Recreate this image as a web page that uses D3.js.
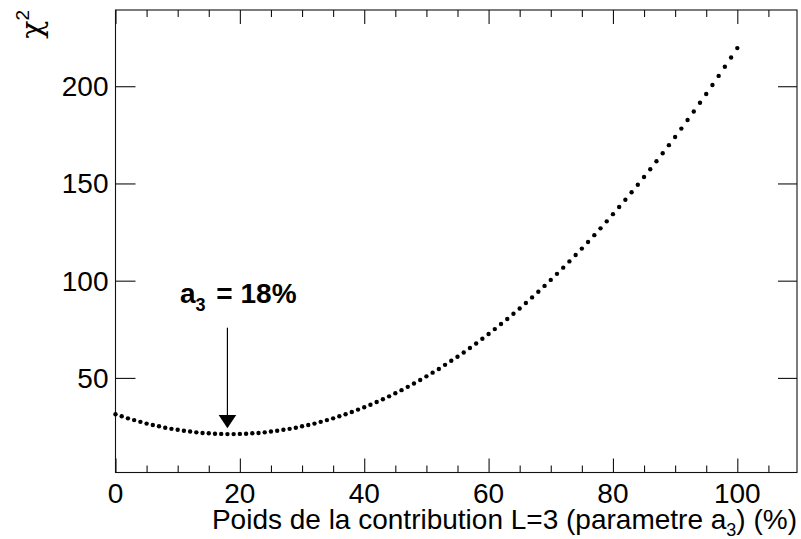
<!DOCTYPE html>
<html>
<head>
<meta charset="utf-8">
<script src="https://cdn.jsdelivr.net/npm/d3@7"></script>
<style>
  html, body { margin: 0; padding: 0; background: #fff; }
  svg { display: block; font-family: "Liberation Sans", Arial, Helvetica, sans-serif; }
</style>
</head>
<body>
<svg id="chart" width="801" height="539"></svg>
<script>
// ---- data ----
const aValues = d3.range(0, 101); // parameter a3 (%) : 0..100 step 1
const chi2Values = [
  31.3, 30.3, 29.2, 28.3, 27.4, 26.5, 25.8, 25.1, 24.4, 23.8,
  23.3, 22.8, 22.4, 22.0, 21.7, 21.5, 21.3, 21.2, 21.1, 21.1,
  21.2, 21.3, 21.5, 21.7, 22.0, 22.4, 22.8, 23.3, 23.8, 24.4,
  25.1, 25.8, 26.5, 27.4, 28.3, 29.2, 30.3, 31.3, 32.5, 33.7,
  34.9, 36.2, 37.6, 39.0, 40.5, 42.1, 43.7, 45.4, 47.1, 48.9,
  50.8, 52.7, 54.6, 56.7, 58.8, 60.9, 63.1, 65.4, 67.7, 70.1,
  72.6, 75.1, 77.7, 80.3, 83.0, 85.7, 88.5, 91.4, 94.3, 97.3,
  100.4, 103.5, 106.7, 109.9, 113.2, 116.5, 119.9, 123.4, 126.9, 130.5,
  134.2, 137.9, 141.6, 145.5, 149.3, 153.3, 157.3, 161.4, 165.5, 169.7,
  173.9, 178.2, 182.6, 187.0, 191.5, 196.0, 200.6, 205.3, 210.0, 214.8,
  219.6
];
const xMajorTicks = [0, 20, 40, 60, 80, 100];
const xMinorTicks = [5, 10, 15, 25, 30, 35, 45, 50, 55, 65, 70, 75, 85, 90, 95, 105];
const yMajorTicks = [50, 100, 150, 200];
const xDomain = [0, 109.6];
const yDomain = [1.35, 239.2];
const minimumA = 18;
const annotation = { base: "a", sub: "3", rest: " = 18%" };
const xTitle = { pre: "Poids de la contribution L=3 (parametre a", sub: "3", post: ") (%)" };

// ---- layout ----
const frame = { left: 115.5, right: 797, top: 10, bottom: 472.5 };
const svg = d3.select("#chart");

const x = d3.scaleLinear().domain(xDomain).range([frame.left, frame.right]);
const y = d3.scaleLinear().domain(yDomain).range([frame.bottom, frame.top]);

const fontMain = 28;
const ink = "#111";

// frame
svg.append("rect")
  .attr("x", frame.left).attr("y", frame.top)
  .attr("width", frame.right - frame.left).attr("height", frame.bottom - frame.top)
  .attr("fill", "none").attr("stroke", ink).attr("stroke-width", 1.1);

// bottom axis (ticks inward)
const gxb = svg.append("g").attr("transform", `translate(0,${frame.bottom})`)
  .call(d3.axisTop(x).tickValues(xMajorTicks).tickSize(14).tickFormat(""));
const gxbm = svg.append("g").attr("transform", `translate(0,${frame.bottom})`)
  .call(d3.axisTop(x).tickValues(xMinorTicks).tickSize(7).tickFormat(""));
// top axis (ticks inward)
const gxt = svg.append("g").attr("transform", `translate(0,${frame.top})`)
  .call(d3.axisBottom(x).tickValues(xMajorTicks).tickSize(14).tickFormat(""));
const gxtm = svg.append("g").attr("transform", `translate(0,${frame.top})`)
  .call(d3.axisBottom(x).tickValues(xMinorTicks).tickSize(7).tickFormat(""));
// left axis
const gyl = svg.append("g").attr("transform", `translate(${frame.left},0)`)
  .call(d3.axisRight(y).tickValues(yMajorTicks).tickSize(20).tickFormat(""));
// right axis
const gyr = svg.append("g").attr("transform", `translate(${frame.right},0)`)
  .call(d3.axisLeft(y).tickValues(yMajorTicks).tickSize(19).tickFormat(""));

[gxb, gxbm, gxt, gxtm, gyl, gyr].forEach(g => {
  g.select(".domain").remove();
  g.selectAll(".tick line").attr("stroke", ink).attr("stroke-width", 1.1);
});

// tick labels
svg.append("g").selectAll("text").data(xMajorTicks).join("text")
  .attr("x", d => x(d)).attr("y", 503)
  .attr("text-anchor", "middle").attr("font-size", fontMain).attr("fill", "#000")
  .text(d => d);
svg.append("g").selectAll("text").data(yMajorTicks).join("text")
  .attr("x", 108.5).attr("y", d => y(d)).attr("dy", "0.355em")
  .attr("text-anchor", "end").attr("font-size", fontMain).attr("fill", "#000")
  .text(d => d);

// x title
const xt = svg.append("text")
  .attr("x", frame.right).attr("y", 529)
  .attr("text-anchor", "end").attr("font-size", 28).attr("fill", "#000");
xt.append("tspan").text(xTitle.pre);
xt.append("tspan").attr("dy", 7).attr("font-size", 18).text(xTitle.sub);
xt.append("tspan").attr("dy", -7).text(xTitle.post);

// y title
const yt = svg.append("text")
  .attr("transform", `translate(42,${frame.top}) rotate(-90)`)
  .attr("text-anchor", "end").attr("font-size", 30).attr("fill", "#000");
yt.append("tspan").attr("font-family", "'DejaVu Serif', serif").text("χ");
yt.append("tspan").attr("dy", -13).attr("font-size", 19).text("2");

// data points
svg.append("g").selectAll("circle").data(aValues).join("circle")
  .attr("cx", d => x(d))
  .attr("cy", (d, i) => y(chi2Values[i]))
  .attr("r", 2.2)
  .attr("fill", "#000");

// arrow annotation
const ax = x(minimumA);
svg.append("line")
  .attr("x1", ax).attr("x2", ax).attr("y1", 327.7).attr("y2", 416)
  .attr("stroke", "#000").attr("stroke-width", 1.2);
svg.append("path")
  .attr("d", `M${ax - 8.8},415 L${ax + 8.8},415 L${ax},428.3 Z`)
  .attr("fill", "#000");

const at = svg.append("text")
  .attr("x", 180).attr("y", 303.3)
  .attr("font-size", 28).attr("font-weight", "bold").attr("fill", "#000");
at.append("tspan").text(annotation.base);
at.append("tspan").attr("dy", 8).attr("font-size", 18).text(annotation.sub);
at.append("tspan").attr("dy", -8).attr("dx", 3).text(annotation.rest);
</script>
</body>
</html>
